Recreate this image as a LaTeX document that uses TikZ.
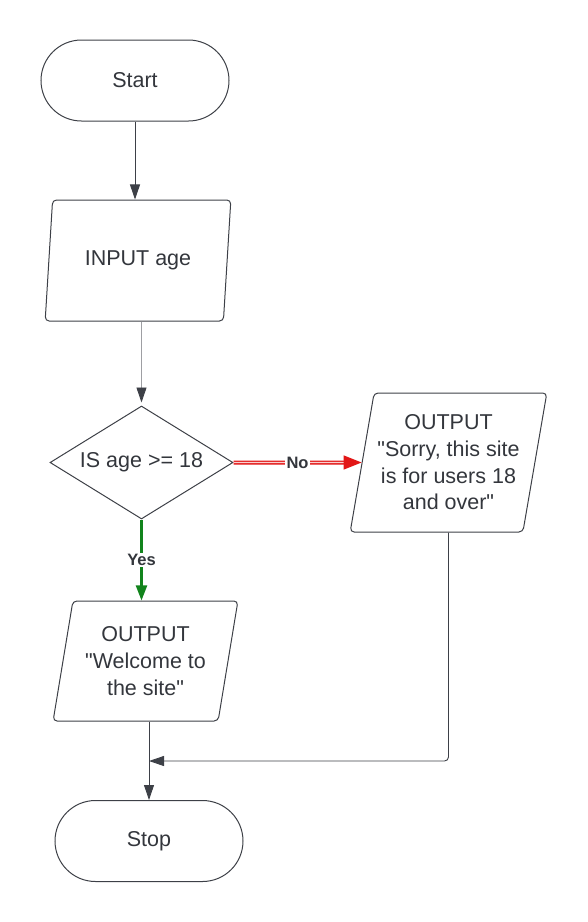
\documentclass[tikz,border=0pt]{standalone}
\usepackage{fontspec}
\setmainfont{Liberation Sans}[Ligatures=TeXOff]
\usepackage{tikz}
\usetikzlibrary{arrows.meta, shapes.geometric, shapes.misc}
\definecolor{linegray}{RGB}{61, 64, 71}
\definecolor{textgray}{RGB}{51, 54, 60}
\definecolor{nored}{RGB}{226, 22, 22}
\definecolor{yesgreen}{RGB}{18, 132, 28}

\tikzset{
  terminal/.style={rounded rectangle, draw=linegray, line width=1pt, minimum width=188pt, minimum height=81pt, inner sep=0pt},
  iobox/.style={trapezium, trapezium left angle=76.5, trapezium right angle=103.5, trapezium stretches=true, draw=linegray, line width=1pt, rounded corners=4pt, inner sep=0pt, align=center},
  decision/.style={diamond, draw=linegray, line width=1pt, aspect=1.62, minimum width=183pt, minimum height=113pt, inner sep=0pt},
  flowline/.style={draw=linegray, line width=0.9pt, -{Triangle[length=15pt, width=10pt, color=linegray]}},
  branchlabel/.style={fill=white, inner sep=1.5pt, font=\fontsize{16.5}{18}\selectfont\bfseries}
}

\begin{document}
\begin{tikzpicture}[x=1pt, y=-1pt, font=\fontsize{21.5}{26.7}\selectfont, text=textgray]
        \useasboundingbox (0, 0) rectangle (587, 922);

        % Start
        \node[terminal] (start) at (135, 80.5) {Start};

        % INPUT age
        \node[iobox, minimum width=186pt, minimum height=121pt] (input) at (138, 260.5) {INPUT age};

        % IS age >= 18
        \node[decision] (check) at (141.5, 462.5) {IS age >= 18};

        % OUTPUT sorry
        \node[iobox, minimum width=197pt, minimum height=139pt] (sorry) at (448.5, 462.5) {OUTPUT\\"Sorry, this site\\is for users 18\\and over"};

        % OUTPUT welcome
        \node[iobox, minimum width=185pt, minimum height=120pt] (welcome) at (145.5, 661) {OUTPUT\\"Welcome to\\the site"};

        % Stop
        \node[terminal] (stop) at (149, 841) {Stop};
        \coordinate (merge) at (149, 761);

        % connectors
        \draw[flowline] (start.south) -- (start.south |- input.north);
        \draw[flowline, draw=linegray!50, shorten >=3pt] (check.north |- input.south) -- (check.north);
        \draw[flowline, draw=yesgreen, line width=2.2pt, -{Triangle[length=15pt, width=11pt]}] (check.south) -- (check.south |- welcome.north)
            node[branchlabel, midway, text=textgray] {Yes};
        \draw[draw=nored, double=nored!20, double distance=1.4pt, line width=1.3pt, -{Triangle[length=18pt, width=14pt]}] (check.east) -- (sorry.west)
            node[branchlabel, midway, text=textgray] {No};
        \draw[flowline] (stop.north |- welcome.south) -- (stop.north);
        \draw[flowline, rounded corners=4pt] (sorry.south) |- (merge);

    \end{tikzpicture}
\end{document}
